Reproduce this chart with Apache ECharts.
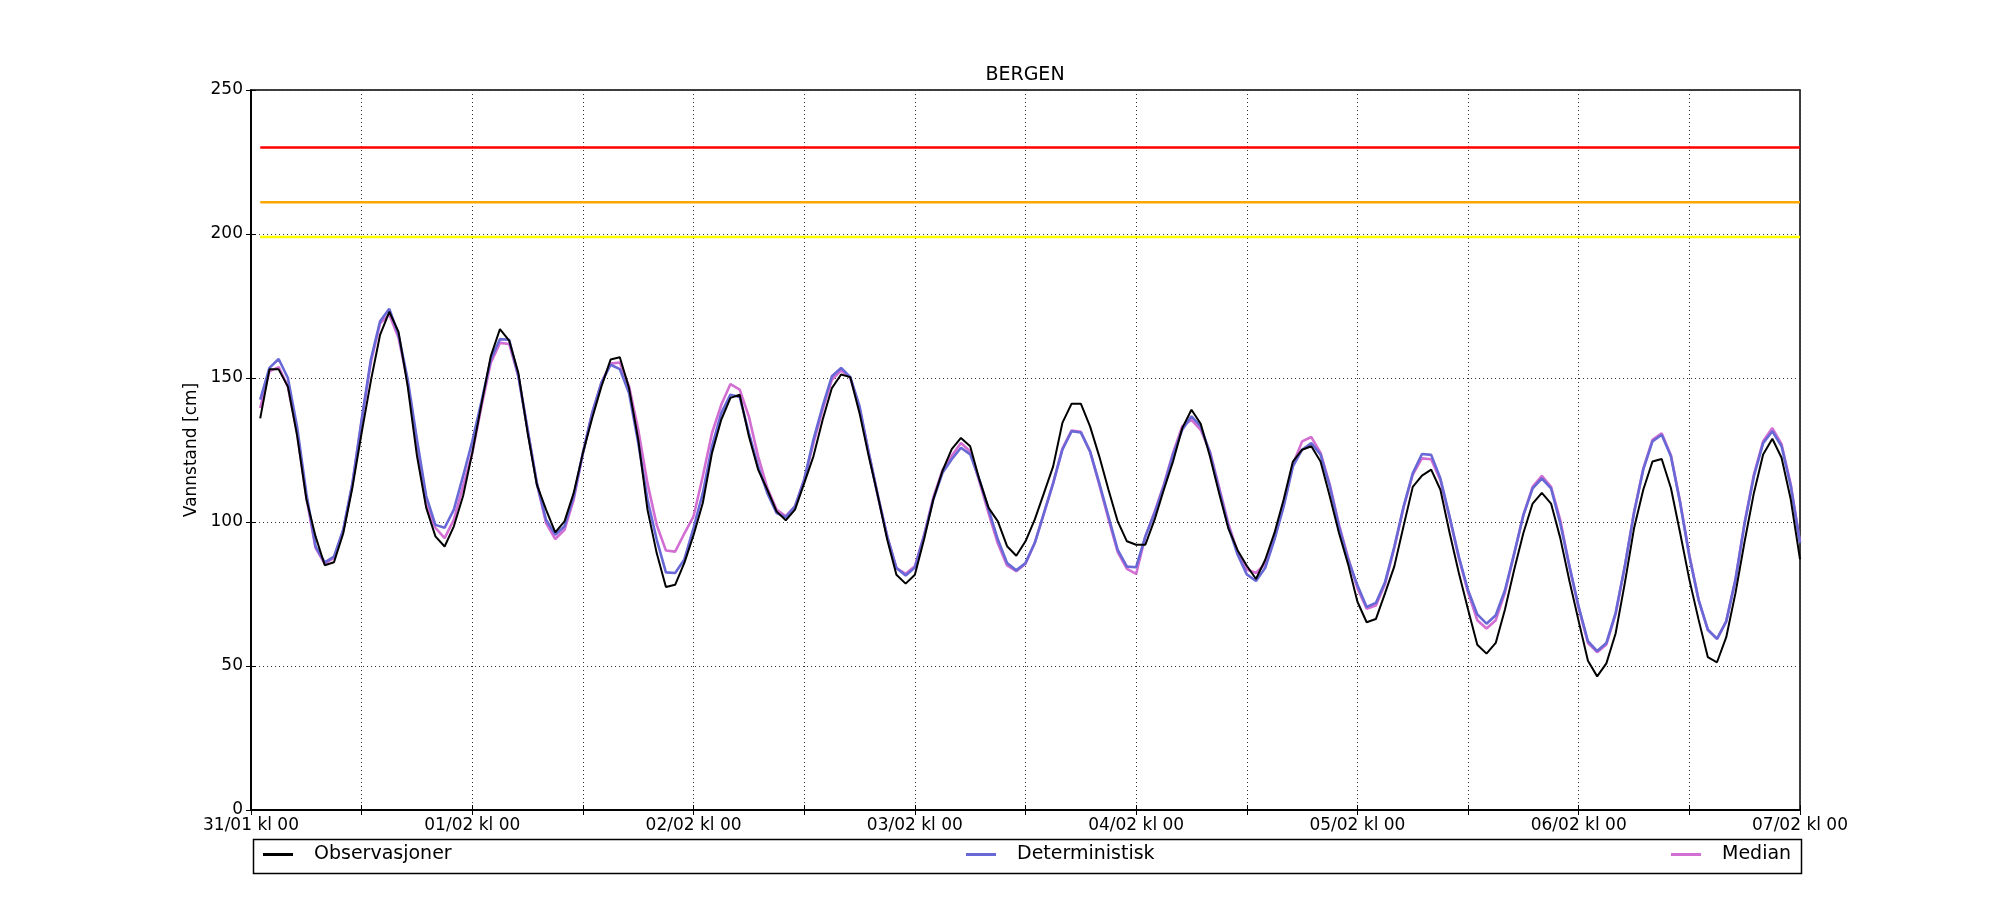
<!DOCTYPE html>
<html>
<head>
<meta charset="utf-8">
<script src="https://cdn.jsdelivr.net/npm/echarts@6/dist/echarts.min.js"></script>
<style>
  html, body { margin: 0; padding: 0; background: #fff; }
  #chart { width: 2000px; height: 900px; }
</style>
</head>
<body>
<div id="chart"></div>
<script>
// ---- data (hourly, first value at 31/01 kl 01, last at 07/02 kl 00) ----
const dayLabels = ['31/01 kl 00', '01/02 kl 00', '02/02 kl 00', '03/02 kl 00',
                   '04/02 kl 00', '05/02 kl 00', '06/02 kl 00', '07/02 kl 00'];

const observasjoner = [
  136, 153, 153, 147, 130, 108, 95, 85, 86, 96, 112, 131, 149, 165, 173, 166, 147, 123, 105, 95, 91.5, 98.5, 109, 124,
  141, 157.5, 167, 163, 151.7, 131, 113, 104.3, 96.4, 100.2, 110.1, 124, 136, 147, 156.4, 157.2, 146.5, 128.6, 104.3, 89.2, 77.4, 78.2, 85.8, 95.5,
  106.6, 124, 135.5, 143.1, 144.2, 129.8, 118.2, 111.2, 103.7, 100.6, 104.3, 113.5, 122.8, 135.5, 146.5, 151.2, 150.3, 137.8, 122.8, 108.9, 93.9, 81.7, 78.6, 81.7,
  94, 107.8, 117.8, 125.3, 129.2, 126.3, 114.7, 104.9, 100.2, 91.6, 88.3, 93.3, 100.8, 110, 119.3, 134.4, 141.1, 141.1, 133.2, 122.8, 111.2, 100.2, 93.3, 92.1,
  92.1, 100.8, 111.2, 121, 132.6, 139, 134.1, 122.8, 110, 97.8, 90.2, 84.8, 80.2, 86.9, 96.2, 107.8, 121, 125.1, 126.3, 121, 108.9, 96.2, 85.2, 72.3,
  65.2, 66.3, 75.3, 84.6, 98.5, 112.2, 116.1, 118.2, 111.2, 96.2, 82.3, 69.6, 57.4, 54.3, 58, 69.6, 83.4, 96.2, 106.4, 110.1, 106.4, 94.4, 79.4, 65.5,
  51.8, 46.4, 50.9, 61.3, 78.8, 97.8, 111.2, 121, 121.9, 111.8, 96.2, 80, 66.1, 53.1, 51.3, 60, 75.3, 93.3, 110.1, 123.4, 128.9, 122.3, 107.8, 87
];

const deterministisk = [
  142.5, 153.5, 156.6, 150, 133, 110, 91.5, 86, 88, 97.3, 113.5, 135.5, 156.4, 169.7, 174, 165, 149.4, 128.6, 109, 99, 98, 104.3, 115.9, 128,
  141.9, 156.4, 163.5, 163.3, 150.6, 132, 113.5, 100.8, 95.6, 98.5, 108.9, 124, 137.8, 148.3, 154.6, 153.1, 144.8, 127.4, 107.8, 93.9, 82.5, 82.3, 87, 98,
  110, 126.3, 137.8, 144.2, 143.4, 130.9, 119.3, 110, 103.1, 101.7, 105.4, 114.7, 128.6, 140.2, 150.6, 153.5, 150.3, 140.2, 124, 108.9, 95, 84, 81.4, 84.2,
  95.2, 107.8, 117.1, 121.8, 125.8, 123.5, 114.7, 104.3, 93.9, 85.8, 83.2, 85.8, 92.7, 103.1, 113.5, 125.1, 131.5, 131.1, 124.5, 113.5, 101.9, 90.3, 84.5, 84.3,
  95, 103.1, 112.4, 123.4, 132, 136.7, 133.2, 124, 111.2, 98.5, 88.7, 81.8, 79.5, 84.1, 93.9, 105.4, 119.3, 125.1, 127.4, 123.4, 112.4, 98.5, 86.9, 78,
  70.5, 71.9, 79.2, 91.4, 105.3, 116.9, 123.6, 123.3, 115.1, 101.8, 87.9, 76.3, 67.9, 64.7, 67.6, 76.3, 89, 102.4, 111.7, 115.1, 111.7, 99.5, 84.5, 70.5,
  58.6, 55.2, 58, 68.4, 84.6, 103.1, 118.2, 128, 130.3, 122.8, 106.6, 88.1, 73, 62.6, 59.4, 65.5, 80, 99.6, 115.9, 127.4, 131.5, 126.3, 112.4, 92.7
];

const median = [
  139.6, 152.3, 153.8, 147, 131, 108.5, 91, 85.5, 87.5, 97, 113, 135, 155.5, 169, 172, 164, 148.5, 127, 106, 98, 94.4, 100.8, 112.4, 124,
  140.2, 155.2, 162.2, 161.8, 150.6, 132, 113.5, 99.6, 94.1, 97.3, 107.8, 124, 137.8, 148.3, 155, 155.4, 147.1, 132, 113.5, 99, 90.1, 89.7, 96, 102,
  115.9, 130.9, 140.7, 147.9, 146, 136.6, 122.8, 111.8, 104.3, 102, 105.4, 114.7, 127.4, 139, 149.4, 152.7, 150, 139.6, 124, 108.9, 95, 84, 82, 84.6,
  95.5, 108.5, 118, 123, 127.4, 124.5, 114, 103, 92.5, 84.9, 82.9, 85.5, 92.7, 103, 113.5, 125.5, 131.8, 131.3, 124.5, 113, 101, 89.5, 83.7, 82,
  95, 103.5, 113, 124, 133.2, 135.5, 132, 124.5, 112, 99.5, 89.5, 83.5, 82.3, 85.5, 94.5, 106, 120, 128, 129.5, 124, 113, 99, 87.5, 77,
  69.9, 71, 78.5, 91, 105, 116.5, 122.1, 121.8, 114.5, 101.5, 87.5, 75.5, 65.9, 63, 65.9, 75.5, 89, 102.5, 112.2, 116, 112.2, 100.7, 84.5, 70,
  58, 54.8, 57.5, 68, 84.6, 103.5, 118.5, 128.5, 130.8, 123.2, 107, 88.5, 73, 62.6, 59.4, 65.5, 80, 100, 116.5, 128, 132.6, 127, 113, 93
];

// warning levels (cm)
const levelRed = 230;
const levelOrange = 211;
const levelYellow = 199;

// ---- chart ----
const FONT = 'DejaVu Sans';
const firstHour = 1;
const lastHour = 168;
const toPairs = arr => arr.map((v, i) => [firstHour + i, v]);
const levelLine = v => [[firstHour, v], [lastHour, v]];

const chart = echarts.init(document.getElementById('chart'), null, { renderer: 'canvas' });

const gridLine = { show: true, lineStyle: { color: '#333', width: 1, type: [1, 3] } };

const option = {
  animation: false,
  backgroundColor: '#fff',
  textStyle: { fontFamily: FONT, color: '#000' },
  title: {
    text: 'BERGEN',
    left: 1025,
    top: 66,
    padding: 0,
    textAlign: 'center',
    textStyle: { fontFamily: FONT, fontSize: 19, fontWeight: 'normal', color: '#000' }
  },
  grid: {
    left: 251, right: 200, top: 90, bottom: 90,
    show: true, borderColor: '#000', borderWidth: 1.5, backgroundColor: 'transparent'
  },
  legend: [
    { data: ['Observasjoner'], left: 263, top: 845 },
    { data: ['Deterministisk'], left: 966, top: 845 },
    { data: ['Median'], left: 1671, top: 845 }
  ].map(l => Object.assign({
    orient: 'horizontal', padding: 0, itemWidth: 30, itemHeight: 3, icon: 'rect',
    textStyle: { fontFamily: FONT, fontSize: 19, color: '#000', padding: [0, 0, 0, 16] }
  }, l)),
  xAxis: [
    {
      type: 'value', min: 0, max: 168, interval: 12, position: 'bottom',
      axisLine: { show: true, lineStyle: { color: '#000', width: 1.5 } },
      axisTick: { show: true, inside: true, length: 5, lineStyle: { color: '#000', width: 1 } },
      axisLabel: {
        fontFamily: FONT, fontSize: 17, color: '#000', margin: 7,
        formatter: v => (v % 24 === 0 ? dayLabels[v / 24] : '')
      },
      splitLine: gridLine
    },
    {
      type: 'value', min: 0, max: 168, interval: 12, position: 'top',
      axisLine: { show: true, lineStyle: { color: '#000', width: 1.5 } },
      axisTick: { show: true, inside: true, length: 5, lineStyle: { color: '#000', width: 1 } },
      axisLabel: { show: false }, splitLine: { show: false }
    }
  ],
  yAxis: [
    {
      type: 'value', min: 0, max: 250, interval: 50, position: 'left',
      name: 'Vannstand [cm]', nameLocation: 'middle', nameGap: 48,
      nameTextStyle: { fontFamily: FONT, fontSize: 17, color: '#000' },
      axisLine: { show: true, lineStyle: { color: '#000', width: 1.5 } },
      axisTick: { show: true, inside: true, length: 5, lineStyle: { color: '#000', width: 1 } },
      axisLabel: { fontFamily: FONT, fontSize: 17, color: '#000', margin: 8 },
      splitLine: gridLine
    },
    {
      type: 'value', min: 0, max: 250, interval: 50, position: 'right',
      axisLine: { show: true, lineStyle: { color: '#000', width: 1.5 } },
      axisTick: { show: true, inside: true, length: 5, lineStyle: { color: '#000', width: 1 } },
      axisLabel: { show: false }, splitLine: { show: false }
    }
  ],
  series: [
    { name: 'levelRed', type: 'line', data: levelLine(levelRed), symbol: 'none', silent: true,
      lineStyle: { color: '#ff0000', width: 2.5 }, z: 2 },
    { name: 'levelOrange', type: 'line', data: levelLine(levelOrange), symbol: 'none', silent: true,
      lineStyle: { color: '#ffa500', width: 2.5 }, z: 2 },
    { name: 'levelYellow', type: 'line', data: levelLine(levelYellow), symbol: 'none', silent: true,
      lineStyle: { color: '#ffff00', width: 2.5 }, z: 2 },
    { name: 'Median', type: 'line', data: toPairs(median), symbol: 'none',
      itemStyle: { color: '#d36ed3' }, lineStyle: { color: '#d36ed3', width: 2.6 }, z: 3 },
    { name: 'Deterministisk', type: 'line', data: toPairs(deterministisk), symbol: 'none',
      itemStyle: { color: '#6868d6' }, lineStyle: { color: '#6868d6', width: 2.6 }, z: 4 },
    { name: 'Observasjoner', type: 'line', data: toPairs(observasjoner), symbol: 'none',
      itemStyle: { color: '#000' }, lineStyle: { color: '#000', width: 2 }, z: 5 }
  ],
  graphic: [
    { type: 'rect', left: 251, top: 837, shape: { width: 1548, height: 34 },
      style: { fill: 'none', stroke: '#000', lineWidth: 1.5 }, silent: true, z: -1 }
  ]
};

chart.setOption(option);
</script>
</body>
</html>
